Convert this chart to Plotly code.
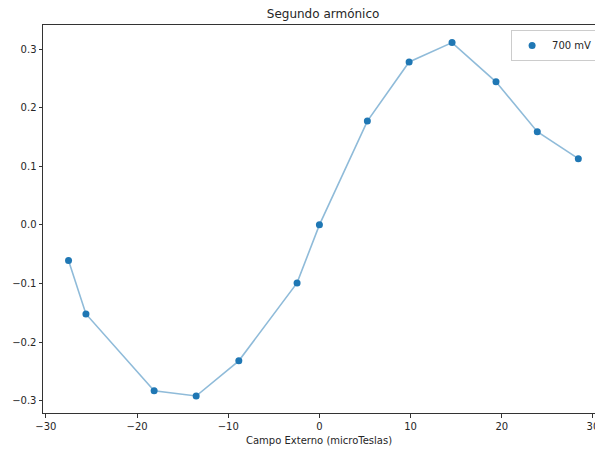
import plotly.graph_objects as go

# Campo externo (microTeslas) y segundo armónico
campo = [-27.52, -25.61, -18.13, -13.52, -8.84, -2.45, 0.0, 5.26, 9.84, 14.55, 19.37, 23.9, 28.4]
segundo = [-0.061, -0.152, -0.283, -0.292, -0.232, -0.099, 0.0, 0.177, 0.278, 0.311, 0.244, 0.159, 0.113]
serie = "700 mV"

azul = "#1f77b4"

fig = go.Figure()

# línea de unión (semitransparente, sin leyenda)
fig.add_trace(go.Scatter(
    x=campo, y=segundo, mode="lines",
    line=dict(color="rgba(31,119,180,0.5)", width=1.6),
    showlegend=False, hoverinfo="skip",
))

# puntos
fig.add_trace(go.Scatter(
    x=campo, y=segundo, mode="markers", name=serie,
    marker=dict(color=azul, size=7),
))

fig.update_layout(
    width=595, height=451,
    margin=dict(l=43, r=0, t=25, b=38, autoexpand=False),
    paper_bgcolor="white", plot_bgcolor="white",
    font=dict(family="DejaVu Sans", size=10, color="#262626"),
    title=dict(text="Segundo armónico", x=0.543, xref="container", xanchor="center",
               y=0.969, yref="container", yanchor="middle", font=dict(size=12)),
    legend=dict(x=0.848, y=0.987, xanchor="left", yanchor="top",
                bordercolor="#cccccc", borderwidth=1, bgcolor="white",
                font=dict(size=10)),
    annotations=[dict(text="Campo Externo (microTeslas)", xref="paper", yref="paper",
                      x=0.5, y=-0.072, xanchor="center", yanchor="middle",
                      showarrow=False, font=dict(size=10))],
)

fig.update_xaxes(
    range=[-30.32, 30.23], tickvals=[-30, -20, -10, 0, 10, 20, 30],
    showgrid=False, zeroline=False, automargin=False, ticklabeloverflow="allow",
    showline=True, linecolor="#333333", linewidth=1, mirror=True,
    ticks="outside", ticklen=3.5, tickcolor="#333333",
)
fig.update_yaxes(
    range=[-0.321, 0.341], tickvals=[-0.3, -0.2, -0.1, 0.0, 0.1, 0.2, 0.3],
    tickformat=".1f",
    showgrid=False, zeroline=False, automargin=False,
    showline=True, linecolor="#333333", linewidth=1,
    ticks="outside", ticklen=3.5, tickcolor="#333333",
)

# sin margen del body para que la figura empiece en (0, 0)
fig.write_html("out.html", config={"displayModeBar": False},
               post_script="document.body.style.margin='0';")
